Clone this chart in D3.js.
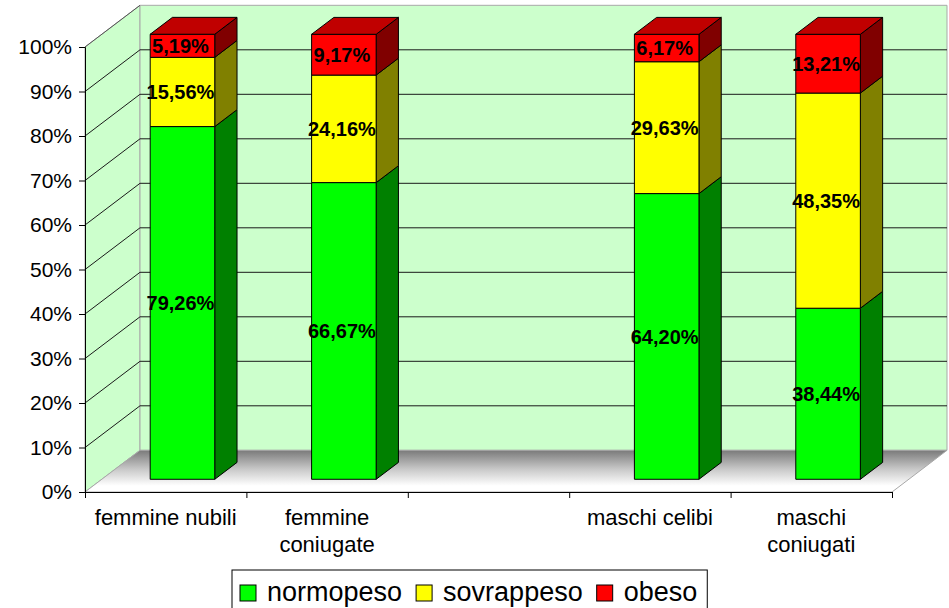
<!DOCTYPE html>
<html>
<head>
<meta charset="utf-8">
<script src="https://cdn.jsdelivr.net/npm/d3@7"></script>
<style>
body{margin:0;background:#fff;}
svg{display:block;font-family:"Liberation Sans",Arial,sans-serif;}
</style>
</head>
<body>
<div class="box"></div>
<script>
// data
const categories=['femmine nubili','femmine coniugate','','maschi celibi','maschi coniugati'];
const seriesNames=['normopeso','sovrappeso','obeso'];
const normopeso=[79.26,66.67,null,64.20,38.44];
const sovrappeso=[15.56,24.16,null,29.63,48.35];
const obeso=[5.19,9.17,null,6.17,13.21];
const yTicks=[0,10,20,30,40,50,60,70,80,90,100];

const W=949,H=608;
const cols=[{f:'#00ff00',s:'#008000',t:'#00c000'},{f:'#ffff00',s:'#808000',t:'#c0c000'},{f:'#ff0000',s:'#800000',t:'#c00000'}];

const svg=d3.select('.box').append('svg').attr('width',W).attr('height',H);

// 3d frame
const left=85,right=892,DX=55,DY=41.7;
const y=d3.scaleLinear().domain([0,100]).range([492,47]);
const x=d3.scaleBand().domain(categories).range([left,right]).paddingInner(0.6).paddingOuter(0.3);
const xb=d3.scaleLinear().domain([0,categories.length]).range([left,right]);
const P=(px,v,z)=>[px+z*DX,y(v)-z*DY];
const pts=a=>a.map(p=>p.join(',')).join(' ');

const defs=svg.append('defs');
const gr=defs.append('linearGradient').attr('id','floor').attr('gradientUnits','userSpaceOnUse')
  .attr('x1',0).attr('x2',0).attr('y1',y(0)-DY).attr('y2',y(0));
gr.append('stop').attr('offset',0).attr('stop-color','#7a7a7a');
gr.append('stop').attr('offset',0.45).attr('stop-color','#c8c8c8');
gr.append('stop').attr('offset',0.85).attr('stop-color','#ffffff');
gr.append('stop').attr('offset',1).attr('stop-color','#ffffff');

const wall='#ccffcc',edge='#a8a8a8';
// side wall
svg.append('polygon').attr('points',pts([P(left,0,0),P(left,100,0),P(left,100,1),P(left,0,1)]))
  .attr('fill',wall).attr('stroke',edge);
// back wall
svg.append('polygon').attr('points',pts([P(left,0,1),P(left,100,1),P(right,100,1),P(right,0,1)]))
  .attr('fill',wall).attr('stroke',edge);
// floor
svg.append('polygon').attr('points',pts([P(left,0,0),P(left,0,1),P(right,0,1),P(right,0,0)]))
  .attr('fill','url(#floor)').attr('stroke',edge);

// gridlines
const grid=svg.append('g').attr('stroke','#1a1a1a').attr('stroke-width',1);
yTicks.filter(v=>v>0&&v<100).forEach(v=>{
  grid.append('line').attr('x1',P(left,v,0)[0]).attr('y1',P(left,v,0)[1]).attr('x2',P(left,v,1)[0]).attr('y2',P(left,v,1)[1]);
  grid.append('line').attr('x1',P(left,v,1)[0]).attr('y1',P(left,v,1)[1]).attr('x2',P(right,v,1)[0]).attr('y2',P(right,v,1)[1]);
});
svg.append('line').attr('x1',P(left,100,0)[0]).attr('y1',P(left,100,0)[1]).attr('x2',P(left,100,1)[0]).attr('y2',P(left,100,1)[1]).attr('stroke','#555');

// axes
const axY=svg.append('g').attr('transform',`translate(${left},0)`)
  .call(d3.axisLeft(y).tickValues(yTicks).tickSize(6).tickPadding(7).tickFormat(d=>d+'%'));
axY.selectAll('text').attr('font-size',21).attr('font-family','"Liberation Sans",Arial,sans-serif').attr('fill','#000');
axY.selectAll('line,path').attr('stroke','#000');
const axX=svg.append('g').attr('transform',`translate(0,${y(0)})`)
  .call(d3.axisBottom(xb).tickValues(d3.range(categories.length+1)).tickSize(6).tickFormat(''));
axX.select('path').attr('stroke','#000');
axX.selectAll('line').attr('stroke','#000');

// category labels
const step=x.step();
categories.forEach((c,i)=>{
  if(!c)return;
  const cx=xb(i+0.5);
  const t=svg.append('text').attr('x',cx).attr('y',525).attr('text-anchor','middle')
    .attr('font-size',22).text(c);
  if(t.node().getComputedTextLength()>step*0.95){
    const words=c.split(' ');
    t.text(null);
    words.forEach((w,j)=>t.append('tspan').attr('x',cx).attr('dy',j?27:0).text(w));
  }
});

// bars
const z0=0.305,z1=0.71;
const fmt=d3.formatLocale({decimal:',',thousands:'.',grouping:[3],currency:['','€']}).format('.2f');
const series=[normopeso,sovrappeso,obeso];
const gBars=svg.append('g').attr('stroke','#000').attr('stroke-width',1).attr('stroke-linejoin','round');
const labels=[];
categories.forEach((c,i)=>{
  if(normopeso[i]==null)return;
  const x0=x(c),x1=x0+x.bandwidth();
  let base=0;
  series.forEach((s,k)=>{
    const v0=base,v1=base+s[i];
    gBars.append('polygon').attr('points',pts([P(x1,v0,z0),P(x1,v1,z0),P(x1,v1,z1),P(x1,v0,z1)])).attr('fill',cols[k].s);
    gBars.append('polygon').attr('points',pts([P(x0,v0,z0),P(x1,v0,z0),P(x1,v1,z0),P(x0,v1,z0)])).attr('fill',cols[k].f);
    if(k===series.length-1)
      gBars.append('polygon').attr('points',pts([P(x0,v1,z0),P(x1,v1,z0),P(x1,v1,z1),P(x0,v1,z1)])).attr('fill',cols[k].t);
    const m=P((x0+x1)/2-2,(v0+v1)/2,z0);
    labels.push({x:m[0],y:m[1],t:fmt(s[i])+'%'});
    base=v1;
  });
});
svg.append('g').selectAll('text').data(labels).join('text')
  .attr('x',d=>d.x).attr('y',d=>d.y).attr('dy','0.36em').attr('text-anchor','middle')
  .attr('font-size',20).attr('font-weight','bold').attr('fill','#000').text(d=>d.t);

// legend
const lg=svg.append('g');
const box=lg.append('rect').attr('fill','#fff').attr('stroke','#000');
let lx=240;
seriesNames.forEach((n,k)=>{
  lg.append('rect').attr('x',lx).attr('y',585).attr('width',16).attr('height',16).attr('fill',cols[k].f).attr('stroke','#000');
  const t=lg.append('text').attr('x',lx+27).attr('y',601).attr('font-size',27).text(n);
  lx+=27+t.node().getComputedTextLength()+14;
});
box.attr('x',232).attr('y',570).attr('width',lx-14+10-232).attr('height',50);
</script>
</body>
</html>
